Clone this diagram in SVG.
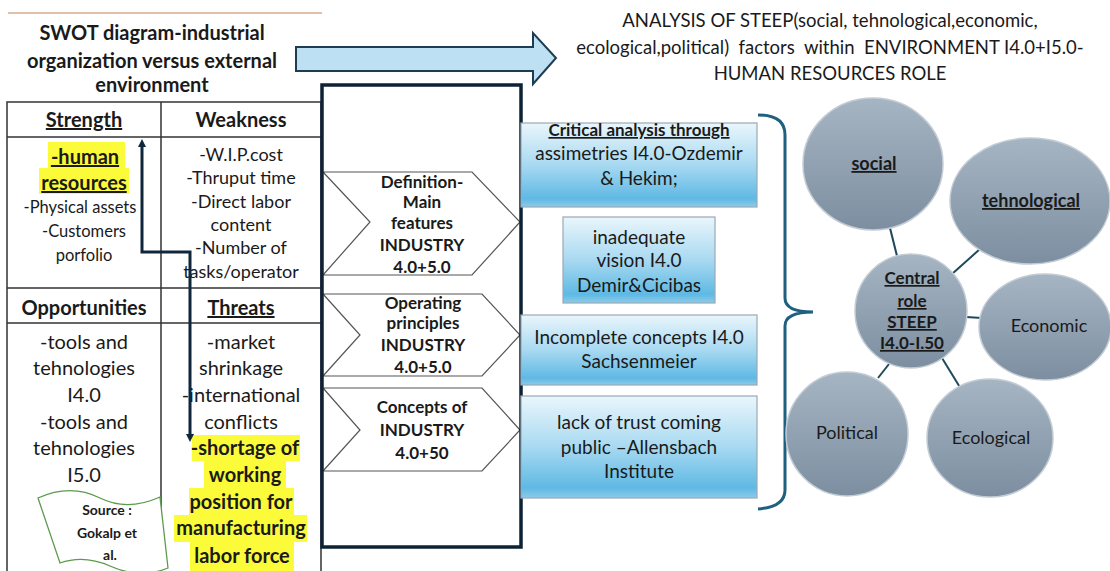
<svg xmlns="http://www.w3.org/2000/svg" width="1110" height="571" viewBox="0 0 1110 571">
<defs>
<style>
text{font-family:Lato,"Liberation Sans",sans-serif;fill:#1a1a1a;text-anchor:middle}
.b{font-weight:bold}
.u{text-decoration:underline}
.t20{font-size:20px}
.t18{font-size:18px}
.t17{font-size:17px}
.t16{font-size:16.5px}
.tbl{stroke:#333;stroke-width:1.5;fill:none}
.hl{fill:#fbfb3a}
.chev{fill:#fff;stroke:#555;stroke-width:1.2}
.bbox{fill:url(#gBlue);stroke:#9aa9b4;stroke-width:1.2}
.circ{fill:url(#gGray);stroke:#c3ccd4;stroke-width:1.5}
.conn{stroke:#1f4a5c;stroke-width:2;fill:none}
</style>
<linearGradient id="gBlue" x1="0" y1="0" x2="0" y2="1">
<stop offset="0" stop-color="#eaf6fc"/>
<stop offset="0.5" stop-color="#a8d9f1"/>
<stop offset="0.9" stop-color="#5fb9e4"/>
<stop offset="1" stop-color="#8ccbea"/>
</linearGradient>
<linearGradient id="gGray" x1="0" y1="0" x2="0" y2="1">
<stop offset="0" stop-color="#a6b5c3"/>
<stop offset="1" stop-color="#7c8ea0"/>
</linearGradient>
<marker id="ah" markerWidth="8" markerHeight="8" refX="4" refY="4" orient="auto-start-reverse" markerUnits="userSpaceOnUse" viewBox="0 0 8 8">
<path d="M0,0 L8,4 L0,8 Z" fill="#10263a"/>
</marker>
</defs>
<rect width="1110" height="571" fill="#fff"/>

<line x1="8" y1="13" x2="322" y2="13" stroke="#d9aa8c" stroke-width="1.5"/>

<g id="title-swot">
<text class="b t20" x="152" y="40">SWOT diagram-industrial</text>
<text class="b t20" x="152" y="68">organization versus external</text>
<text class="b t20" x="152" y="92">environment</text>
</g>

<g id="swot-table">
<path class="tbl" d="M7,571 V102 H321 V571 M7,137 H321 M7,288 H321 M7,323 H321 M161,102 V571"/>
<text class="b t20 u" x="84" y="127">Strength</text>
<text class="b t20" x="241" y="127">Weakness</text>
<text class="b t20" x="84" y="315">Opportunities</text>
<text class="b t20 u" x="241" y="315">Threats</text>
</g>

<g id="strength">
<rect class="hl" x="48" y="142" width="77" height="26"/>
<rect class="hl" x="39" y="168" width="90" height="26"/>
<text class="b t20 u" x="85" y="164">-human</text>
<text class="b t20 u" x="84" y="190">resources</text>
<text class="t16" x="80" y="213">-Physical assets</text>
<text class="t16" x="84" y="237">-Customers</text>
<text class="t16" x="84" y="261">porfolio</text>
</g>

<g id="weakness">
<text class="t18" x="241" y="161">-W.I.P.cost</text>
<text class="t18" x="241" y="184">-Thruput time</text>
<text class="t18" x="241" y="208">-Direct labor</text>
<text class="t18" x="241" y="231">content</text>
<text class="t18" x="241" y="254">-Number of</text>
<text class="t18" x="241" y="278">tasks/operator</text>
</g>

<g id="opportunities">
<text class="t20" x="84" y="349">-tools and</text>
<text class="t20" x="84" y="375">tehnologies</text>
<text class="t20" x="84" y="402">I4.0</text>
<text class="t20" x="84" y="429">-tools and</text>
<text class="t20" x="84" y="455">tehnologies</text>
<text class="t20" x="84" y="482">I5.0</text>
</g>

<g id="threats">
<rect class="hl" x="192" y="435" width="108" height="26"/>
<rect class="hl" x="204" y="461" width="82" height="27"/>
<rect class="hl" x="189" y="488" width="105" height="27"/>
<rect class="hl" x="174" y="515" width="133" height="27"/>
<rect class="hl" x="190" y="542" width="104" height="29"/>
<text class="t20" x="241" y="349">-market</text>
<text class="t20" x="241" y="375">shrinkage</text>
<text class="t20" x="241" y="402">-international</text>
<text class="t20" x="241" y="429">conflicts</text>
<text class="b t20" x="245" y="455">-shortage of</text>
<text class="b t20" x="245" y="482">working</text>
<text class="b t20" x="241" y="509">position for</text>
<text class="b t20" x="241" y="535">manufacturing</text>
<text class="b t20" x="242" y="563">labor force</text>
</g>

<g id="source-flag">
<path d="M38,498 C60,488 80,488 100,498 C120,508 140,506 160,497 L168,568 C148,576 128,574 110,566 C92,558 74,558 60,563 Z" fill="#fff" stroke="#5c9a4c" stroke-width="1.3"/>
<text class="b" style="font-size:14px" x="107" y="515">Source :</text>
<text class="b" style="font-size:14px" x="107" y="538">Gokalp et</text>
<text class="b" style="font-size:14px" x="110" y="560">al.</text>
</g>

<g id="big-arrow">
<path d="M296,47 H533 V33 L556,58 L533,84 V71 H296 Z" fill="#bde0f2" stroke="#1e3d52" stroke-width="2"/>
</g>

<g id="title-steep">
<text style="font-size:18.5px" x="830" y="27">ANALYSIS OF STEEP(social, tehnological,economic,</text>
<text style="font-size:18.5px;white-space:pre" x="830" y="54">ecological,political)  factors  within  ENVIRONMENT I4.0+I5.0-</text>
<text style="font-size:18.5px" x="830" y="80">HUMAN RESOURCES ROLE</text>
</g>

<g id="chevron-1">
<path class="chev" d="M323,172 H472 L520,222 L472,275 H323 L370,222 Z"/>
<text class="b t17" x="422" y="188">Definition-</text>
<text class="b t17" x="422" y="208">Main</text>
<text class="b t17" x="422" y="229">features</text>
<text class="b t17" x="422" y="251">INDUSTRY</text>
<text class="b t17" x="422" y="273">4.0+5.0</text>
</g>
<g id="chevron-2">
<path class="chev" d="M323,294 H482 L520,335 L482,376 H323 L360,335 Z"/>
<text class="b t17" x="423" y="309">Operating</text>
<text class="b t17" x="423" y="329">principles</text>
<text class="b t17" x="423" y="351">INDUSTRY</text>
<text class="b t17" x="423" y="373">4.0+5.0</text>
</g>
<g id="chevron-3">
<path class="chev" d="M323,388 H482 L520,430 L482,471 H323 L360,430 Z"/>
<text class="b t17" x="422" y="413">Concepts of</text>
<text class="b t17" x="422" y="436">INDUSTRY</text>
<text class="b t17" x="422" y="459">4.0+50</text>
</g>

<g id="frame">
<rect x="322" y="85" width="199" height="462" fill="none" stroke="#0e2236" stroke-width="3.5"/>
</g>

<g id="box-critical">
<rect class="bbox" x="521" y="123" width="236" height="84"/>
<text class="b u" style="font-size:17px" x="639" y="136">Critical analysis through</text>
<text style="font-size:19px" x="639" y="160">assimetries I4.0-Ozdemir</text>
<text style="font-size:19px" x="639" y="185">&amp; Hekim;</text>
</g>
<g id="box-inadequate">
<rect class="bbox" x="563" y="217" width="152" height="86"/>
<text style="font-size:19px" x="639" y="244">inadequate</text>
<text style="font-size:19px" x="639" y="267">vision I4.0</text>
<text style="font-size:19px" x="639" y="292">Demir&amp;Cicibas</text>
</g>
<g id="box-incomplete">
<rect class="bbox" x="521" y="315" width="236" height="70"/>
<text style="font-size:19px" x="639" y="344">Incomplete concepts I4.0</text>
<text style="font-size:19px" x="639" y="368">Sachsenmeier</text>
</g>
<g id="box-trust">
<rect class="bbox" x="521" y="396" width="236" height="102"/>
<text style="font-size:19px" x="639" y="429">lack of trust coming</text>
<text style="font-size:19px" x="639" y="454">public –Allensbach</text>
<text style="font-size:19px" x="639" y="478">Institute</text>
</g>

<g id="brace">
<path d="M758,115 Q785,115 785,135 L785,298 Q785,312 813,312 Q785,312 785,326 L785,490 Q785,507 758,509" fill="none" stroke="#1f5f80" stroke-width="3"/>
</g>

<g id="connectors">
<path d="M190,438 L190,252 L142,252 L142,143" fill="none" stroke="#10263a" stroke-width="3" marker-start="url(#ah)" marker-end="url(#ah)"/>
<line class="conn" x1="890" y1="228" x2="897" y2="256"/>
<line class="conn" x1="980" y1="249" x2="952" y2="274"/>
<line class="conn" x1="966" y1="317" x2="982" y2="318"/>
<line class="conn" x1="878" y1="378" x2="889" y2="364"/>
<line class="conn" x1="942" y1="358" x2="961" y2="389"/>
</g>

<g id="circle-social">
<ellipse class="circ" cx="873" cy="164" rx="70" ry="66"/>
<text class="b u t18" x="874" y="170">social</text>
</g>
<g id="circle-tehnological">
<ellipse class="circ" cx="1030" cy="201" rx="80" ry="63"/>
<text class="b u t18" x="1031" y="207">tehnological</text>
</g>
<g id="circle-economic">
<ellipse class="circ" cx="1045" cy="327" rx="66" ry="53"/>
<text class="t18" x="1049" y="332">Economic</text>
</g>
<g id="circle-political">
<ellipse class="circ" cx="847" cy="434" rx="61" ry="62"/>
<text class="t18" x="847" y="439">Political</text>
</g>
<g id="circle-ecological">
<ellipse class="circ" cx="990" cy="438" rx="63" ry="59"/>
<text class="t18" x="991" y="444">Ecological</text>
</g>
<g id="circle-central">
<ellipse class="circ" cx="911" cy="311" rx="56" ry="57"/>
<text class="b u t17" x="912" y="284">Central</text>
<text class="b u t17" x="912" y="307">role</text>
<text class="b u t17" x="912" y="328">STEEP</text>
<text class="b u t17" x="912" y="349">I4.0-I.50</text>
</g>
</svg>
